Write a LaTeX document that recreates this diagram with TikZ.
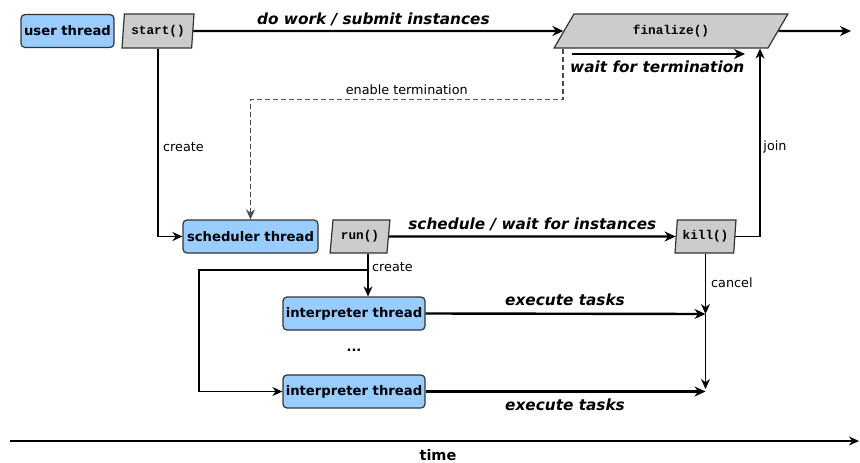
\documentclass[tikz,border=0pt]{standalone}
\usepackage{fontspec}
\setmainfont{DejaVu Sans}
\newfontfamily\codefont{Liberation Mono}
\usetikzlibrary{shapes.geometric,arrows.meta,calc}
\definecolor{threadblue}{HTML}{99CCFF}
\definecolor{callgray}{HTML}{CCCCCC}
\definecolor{edgegray}{HTML}{333333}
\begin{document}
\begin{tikzpicture}[x=1pt,y=-1pt,
  thread/.style={rectangle, rounded corners=4pt, draw=edgegray, fill=threadblue,
    line width=1.2pt, inner sep=0pt, minimum height=33pt,
    font=\bfseries\fontsize{13.2}{14}\selectfont},
  callbox/.style={trapezium, trapezium stretches=true, draw=edgegray, fill=callgray,
    line width=1.2pt, inner sep=0pt, minimum height=34pt,
    font=\codefont\bfseries\fontsize{12.7}{13}\selectfont},
  thin/.style={line width=1.3pt, draw=black, -{Stealth[length=10pt,width=9pt]}},
  heavy/.style={line width=2.4pt, draw=black, -{Stealth[length=11pt,width=10pt]}},
  note/.style={font=\fontsize{12.8}{14}\selectfont, inner sep=0pt},
  phase/.style={font=\bfseries\itshape\fontsize{15.3}{16}\selectfont, inner sep=0pt},
]
\useasboundingbox (0,0) rectangle (860,463);

% thread boxes
\node[thread, minimum width=93pt]  (user)  at (67.5,31)   {user thread};
\node[thread, minimum width=135pt] (sched) at (250.5,236.5) {scheduler thread};
\node[thread, minimum width=142pt] (int1)  at (354,313.5) {interpreter thread};
\node[thread, minimum width=142pt] (int2)  at (354,391.5) {interpreter thread};

% calls
\node[callbox, minimum width=72pt, trapezium left angle=81, trapezium right angle=99]
  (start) at (158,31) {start()};
\node[callbox, minimum width=236pt, trapezium left angle=57, trapezium right angle=123]
  (final) at (671,31) {finalize()};
\node[callbox, minimum width=60pt, minimum height=33pt, trapezium left angle=80, trapezium right angle=100]
  (run) at (360,236.5) {run()};
\node[callbox, minimum width=61pt, minimum height=33pt, trapezium left angle=81, trapezium right angle=99]
  (kill) at (705.5,236.5) {kill()};

% free ends
\coordinate (out) at (851,31);
\coordinate (w0) at (572,54);
\coordinate (w1) at (745,54);
\coordinate (m1) at (kill.south |- 0,314);
\coordinate (m2) at (kill.south |- 0,389);
\coordinate (br) at ([xshift=8pt]run.south |- 0,270);
\coordinate (t0) at (10,441);
\coordinate (t1) at (859,441);

% main thread timeline
\draw[heavy] (start.east) -- (final.west)
  node[phase, midway, above=4pt, xshift=-5pt] {do work / submit instances};
\draw[heavy] (final.east) -- (out);
\draw[heavy] (w0) -- (w1);
\node[phase, anchor=north west] (waitlbl) at (570,61) {wait for termination};

% enabling termination
\draw[thin, dashed, draw=black!70, dash pattern=on 5pt off 3pt]
  ([xshift=10pt]final.bottom left corner) -- ++(0,51) -| (sched.north)
  node[note, pos=0.25, above=4pt] {enable termination};

% scheduler creation
\draw[thin] (start.south) |- (sched.west);
\node[note, anchor=west] (createA) at (163,147) {create};

% scheduler timeline
\draw[heavy] (run.east) -- (kill.west)
  node[phase, midway, above=4pt, xshift=0pt] {schedule / wait for instances};

% join back into finalize
\draw[thin] (kill.east) -| ([xshift=89pt]final.south);
\node[note] (joinlbl) at (775,147) {join};

% cancel interpreters
\draw[thin] (kill.south) -- (m1);
\draw[thin] (m1) -- (m2);
\node[note, anchor=west] (cancellbl) at (711,283) {cancel};

% interpreter creation
\draw[thin] ([xshift=8pt]run.south) -- ([xshift=8pt]run.south |- int1.north);
\draw[thin] (br) -- ++(-169,0) |- (int2.west);
\node[note, anchor=west] (createB) at (372,267) {create};

% interpreter timelines
\draw[heavy] (int1.east) -- (m1);
\draw[heavy] (int2.east) -- (m2 |- int2.east);
\node[phase] (exec1) at (565,300) {execute tasks};
\node[phase] (exec2) at (565,405) {execute tasks};
\node[font=\bfseries\fontsize{13}{14}\selectfont] (dots) at (354,350) {...};

% time axis
\draw[line width=1.8pt, -{Stealth[length=10pt,width=9pt]}] (t0) -- (t1);
\node[font=\bfseries\fontsize{14.5}{16}\selectfont] (timelbl) at (438,455) {time};
\end{tikzpicture}
\end{document}
